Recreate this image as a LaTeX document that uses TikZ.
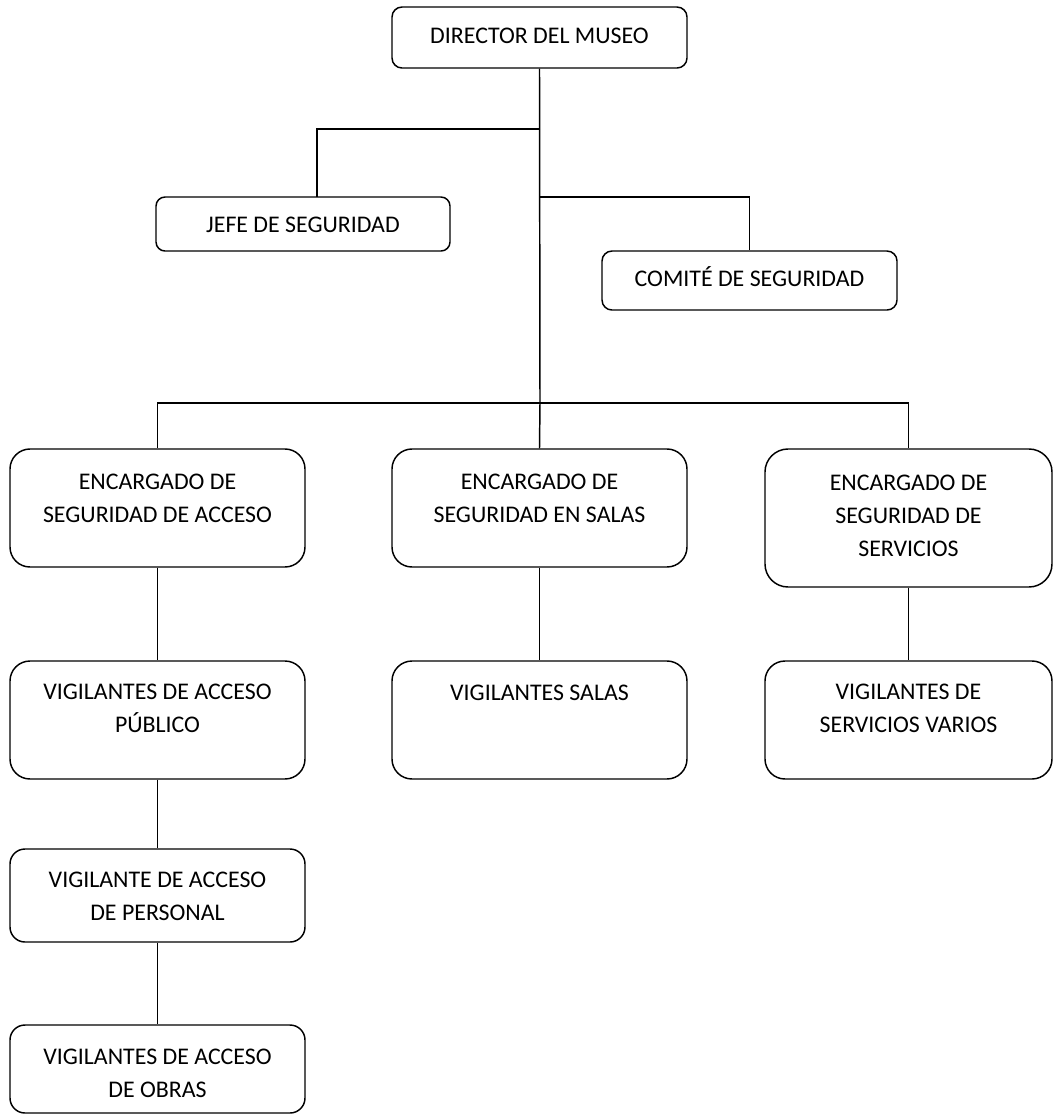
\documentclass[tikz,border=0pt]{standalone}
\usepackage{fontspec}
\setmainfont{Carlito}
\usetikzlibrary{calc}
\tikzset{
  bx/.style n args={3}{draw=black, line width=1.1pt, rounded corners=#3*0.75pt,
    minimum width=#1*0.75pt, minimum height=#2*0.75pt, inner sep=0pt},
  txt/.style={anchor=base, align=center, inner sep=0pt,
    font=\fontsize{17.9}{24.75}\selectfont},
  conn/.style={draw=black, line width=1.1pt}
}
\begin{document}
\begin{tikzpicture}[x=0.75pt,y=-0.75pt]
\useasboundingbox (0,0) rectangle (1053,1115);
% boxes
\node[bx={295}{61}{10}] (dir) at (539.5,37.5) {};
\node[bx={294}{54}{9}] (jefe) at (303,224) {};
\node[bx={295}{59}{10}] (comite) at (749.5,280.5) {};
\node[bx={295}{118}{20}] (enc1) at (157.5,508) {};
\node[bx={295}{118}{20}] (enc2) at (539.5,508) {};
\node[bx={287}{138}{23}] (enc3) at (908.5,518) {};
\node[bx={295}{118}{20}] (vig1) at (157.5,720) {};
\node[bx={295}{118}{20}] (vig2) at (539.5,720) {};
\node[bx={287}{118}{20}] (vig3) at (908.5,720) {};
\node[bx={295}{93}{15}] (pers) at (157.5,895.5) {};
\node[bx={295}{88}{15}] (obras) at (157.5,1069) {};
% texts (positioned at the baseline of the last line)
\node[txt] (dirT) at (539.5,43) {DIRECTOR DEL MUSEO};
\node[txt] (jefeT) at (303,232) {JEFE DE SEGURIDAD};
\node[txt] (comiteT) at (749.5,286) {COMITÉ DE SEGURIDAD};
\node[txt] (enc1T) at (157.5,522) {ENCARGADO DE\\SEGURIDAD DE ACCESO};
\node[txt] (enc2T) at (539.5,522) {ENCARGADO DE\\SEGURIDAD EN SALAS};
\node[txt] (enc3T) at (908.5,556) {ENCARGADO DE\\SEGURIDAD DE\\SERVICIOS};
\node[txt] (vig1T) at (157.5,732) {VIGILANTES DE ACCESO\\PÚBLICO};
\node[txt] (vig2T) at (539.5,700) {VIGILANTES SALAS};
\node[txt] (vig3T) at (908.5,732) {VIGILANTES DE\\SERVICIOS VARIOS};
\node[txt] (persT) at (157.5,920) {VIGILANTE DE ACCESO\\DE PERSONAL};
\node[txt] (obrasT) at (157.5,1097) {VIGILANTES DE ACCESO\\DE OBRAS};
% junction coordinates
\coordinate (t1) at (540,129);
\coordinate (t2) at (540,197);
\coordinate (bus) at (540,403);
\coordinate (jefeIn) at (317,197);
% connectors
\draw[conn] (dir.south) -- (bus);
\draw[conn] (t1) -| (jefeIn);
\draw[conn] (t2) -| (comite.north);
\draw[conn] (bus) -| (enc1.north);
\draw[conn] (bus) -| (enc3.north);
\draw[conn] (bus) -- (enc2.north);
\draw[conn] (enc1.south) -- (vig1.north);
\draw[conn] (vig1.south) -- (pers.north);
\draw[conn] (pers.south) -- (obras.north);
\draw[conn] (enc2.south) -- (vig2.north);
\draw[conn] (enc3.south) -- (vig3.north);
\end{tikzpicture}
\end{document}
